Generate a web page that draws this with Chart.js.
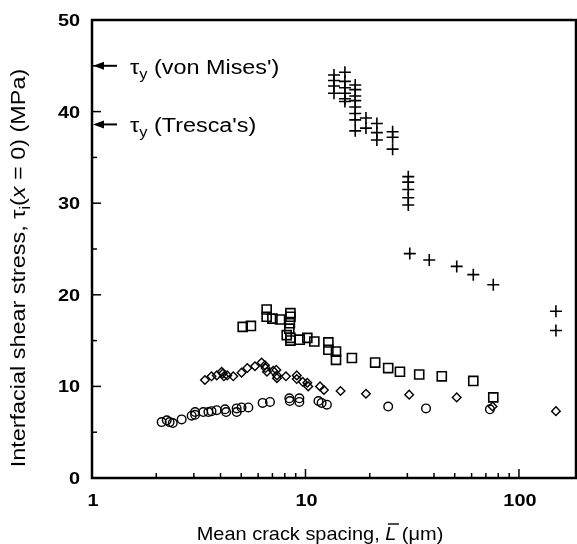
<!DOCTYPE html>
<html>
<head>
<meta charset="utf-8">
<script src="https://cdn.jsdelivr.net/npm/chart.js@4/dist/chart.umd.min.js"></script>
<style>
  html, body { margin: 0; padding: 0; background: #fff; }
  #wrap { width: 577px; height: 544px; position: relative; }
</style>
</head>
<body>
<div id="wrap"><canvas id="c" width="577" height="544"></canvas></div>
<script>
// Mean crack spacing (µm) and interfacial shear stress at x = 0 (MPa), one pair of arrays per marker series
const plusSpacing = [13.6, 13.6, 13.6, 13.6,
  15.3, 15.3, 15.3, 15.3, 15.3, 15.3,
  17.1, 17.1, 17.1, 17.1, 17.1, 17.1, 17.1, 17.1,
  19.2, 19.2, 21.6, 21.6, 21.6, 25.6, 25.6, 25.6,
  30.3, 30.3, 30.3, 30.3, 30.3,
  30.8, 38.0, 51.1, 61.1, 75.8, 149, 149];
const plusStress = [44.0, 43.4, 42.8, 42.0,
  44.3, 43.3, 42.6, 42.0, 41.4, 41.1,
  42.9, 42.4, 41.7, 41.2, 40.5, 39.8, 39.1, 37.9,
  39.3, 38.2, 38.7, 37.7, 36.9, 37.8, 37.2, 35.9,
  32.9, 32.3, 31.5, 30.6, 29.8,
  24.5, 23.8, 23.1, 22.2, 21.1, 18.2, 16.1];

const squareSpacing = [5.08, 5.55, 6.58, 6.58, 7.0, 7.6,
  8.5, 8.5, 8.45, 8.4, 8.17, 8.5, 8.5,
  9.4, 10.2, 11.0, 12.8, 12.8, 13.9, 13.9, 16.5,
  21.2, 24.4, 27.7, 34.1, 43.5, 61.1, 75.8];
const squareStress = [16.5, 16.6, 18.4, 17.6, 17.4, 17.3,
  18.0, 17.6, 16.9, 16.3, 15.6, 15.3, 15.0,
  15.1, 15.3, 14.9, 14.8, 14.0, 13.8, 12.9, 13.1,
  12.6, 12.0, 11.6, 11.3, 11.1, 10.6, 8.8];

const diamondSpacing = [3.38, 3.63, 3.84, 4.05, 4.1, 4.15, 4.3, 4.59, 5.02, 5.34,
  5.80, 6.23, 6.46, 6.5, 6.6, 7.06, 7.3, 7.35, 7.35, 8.1,
  9.1, 9.1, 9.7, 10.2, 10.3, 11.7, 12.2, 14.6, 19.2, 30.6, 51.1, 75.2, 149];
const diamondStress = [10.7, 11.1, 11.2, 11.6, 11.4, 11.1, 11.2, 11.1, 11.5, 12.0,
  12.2, 12.6, 12.3, 12.0, 11.6, 11.7, 11.8, 11.2, 10.9, 11.1,
  11.2, 10.8, 10.5, 10.4, 10.0, 10.0, 9.6, 9.5, 9.2, 9.1, 8.8, 7.8, 7.3];

const circleSpacing = [2.12, 2.24, 2.31, 2.39, 2.63, 2.93, 3.04, 3.04, 3.32, 3.51,
  3.63, 3.84, 4.2, 4.25, 4.76, 4.76, 5.02, 5.40, 6.3, 6.82,
  8.4, 8.45, 9.36, 9.36, 11.5, 11.9, 12.6, 24.4, 36.7, 73.1];
const circleStress = [6.1, 6.3, 6.1, 6.0, 6.4, 6.8, 7.2, 6.9, 7.2, 7.2,
  7.3, 7.4, 7.5, 7.2, 7.2, 7.6, 7.7, 7.7, 8.2, 8.3,
  8.7, 8.4, 8.7, 8.3, 8.4, 8.2, 8.0, 7.8, 7.6, 7.5];

// Axis tick labels and the two yield-stress markers
const xTickLabels = [1, 10, 100];
const yTickLabels = [0, 10, 20, 30, 40, 50];
const yieldVonMises = 45.0;
const yieldTresca = 38.6;

const FONT = '"Liberation Sans", Arial, Helvetica, sans-serif';
const WIDE = 1.17; // the lettering is set slightly expanded

function pairs(xs, ys) { return xs.map((x, i) => ({ x: x, y: ys[i] })); }

function piecesWidth(ctx, pieces) {
  let w = 0;
  for (const p of pieces) { ctx.font = p.font; w += ctx.measureText(p.text).width; }
  return w;
}
// Draws a run of text pieces from (0,0) on the current baseline, horizontally expanded by sx
function drawPieces(ctx, pieces, sx) {
  ctx.save();
  ctx.scale(sx, 1);
  ctx.textAlign = 'left';
  ctx.textBaseline = 'alphabetic';
  let cx = 0;
  for (const p of pieces) {
    ctx.font = p.font;
    ctx.fillText(p.text, cx, p.dy || 0);
    const w = ctx.measureText(p.text).width;
    if (p.overline) {
      ctx.lineWidth = 1.4;
      ctx.beginPath();
      ctx.moveTo(cx + 2.5, -16);
      ctx.lineTo(cx + w + 2.5, -16);
      ctx.stroke();
    }
    cx += w;
  }
  ctx.restore();
}
function scaledText(ctx, text, x, y, font, align, sx) {
  ctx.save();
  ctx.translate(x, y);
  ctx.scale(sx, 1);
  ctx.font = font;
  ctx.textAlign = align;
  ctx.textBaseline = 'alphabetic';
  ctx.fillText(text, 0, 0);
  ctx.restore();
}

const decorations = {
  id: 'decorations',
  afterDraw(chart) {
    const ctx = chart.ctx;
    const xs = chart.scales.x, ys = chart.scales.y;
    const a = chart.chartArea;
    ctx.save();
    ctx.strokeStyle = '#000';
    ctx.fillStyle = '#000';

    // frame
    ctx.lineWidth = 2.5;
    ctx.strokeRect(a.left, a.top, a.right - a.left, a.bottom - a.top);

    // inward ticks on the log axis
    ctx.lineWidth = 1.5;
    for (let d = 1; d <= 100; d *= 10) {
      for (let m = 1; m <= 9; m++) {
        const v = m * d;
        if (v > xs.max) break;
        const px = xs.getPixelForValue(v);
        const len = (m === 1) ? 9 : 5;
        ctx.beginPath();
        ctx.moveTo(px, a.bottom);
        ctx.lineTo(px, a.bottom - len);
        ctx.stroke();
      }
    }
    // inward ticks on the stress axis
    for (let v = 0; v <= 50; v += 5) {
      const py = ys.getPixelForValue(v);
      const len = (v % 10 === 0) ? 9 : 5;
      ctx.beginPath();
      ctx.moveTo(a.left, py);
      ctx.lineTo(a.left + len, py);
      ctx.stroke();
    }

    // tick labels
    const tickFont = 'bold 17px ' + FONT;
    for (const v of yTickLabels) {
      scaledText(ctx, String(v), a.left - 12, ys.getPixelForValue(v) + 6, tickFont, 'right', WIDE);
    }
    for (const v of xTickLabels) {
      scaledText(ctx, String(v), xs.getPixelForValue(v) + 1, a.bottom + 28, tickFont, 'center', WIDE);
    }

    // yield stress arrows with labels
    const marks = [
      { v: yieldVonMises, label: " (von Mises')" },
      { v: yieldTresca, label: " (Tresca's)" }
    ];
    for (const mk of marks) {
      const py = ys.getPixelForValue(mk.v);
      const tip = a.left + 1;
      ctx.lineWidth = 2;
      ctx.beginPath();
      ctx.moveTo(tip + 8, py);
      ctx.lineTo(a.left + 25, py);
      ctx.stroke();
      ctx.beginPath();
      ctx.moveTo(tip, py);
      ctx.lineTo(tip + 11, py - 4);
      ctx.lineTo(tip + 11, py + 4);
      ctx.closePath();
      ctx.fill();
      ctx.save();
      ctx.translate(a.left + 38, py + 8);
      drawPieces(ctx, [
        { text: 'τ', font: '20px ' + FONT },
        { text: 'y', font: '14px ' + FONT, dy: 5 },
        { text: mk.label, font: '20px ' + FONT }
      ], WIDE);
      ctx.restore();
    }

    // x axis title
    const xt = [
      { text: 'Mean crack spacing, ', font: '19px ' + FONT },
      { text: 'L', font: 'italic 19px ' + FONT, overline: true },
      { text: ' (μm)', font: '19px ' + FONT }
    ];
    const xsx = 1.05;
    const xw = piecesWidth(ctx, xt) * xsx;
    ctx.save();
    ctx.translate(320 - xw / 2, 540);
    drawPieces(ctx, xt, xsx);
    ctx.restore();

    // y axis title, rotated
    const yt = [
      { text: 'Interfacial shear stress, τ', font: '20px ' + FONT },
      { text: 'i', font: '14px ' + FONT, dy: 5 },
      { text: '(', font: '20px ' + FONT },
      { text: 'x', font: 'italic 20px ' + FONT },
      { text: ' = 0) (MPa)', font: '20px ' + FONT }
    ];
    const yw = piecesWidth(ctx, yt) * WIDE;
    ctx.save();
    ctx.translate(25, 268);
    ctx.rotate(-Math.PI / 2);
    ctx.translate(-yw / 2, 0);
    drawPieces(ctx, yt, WIDE);
    ctx.restore();

    ctx.restore();
  }
};

const common = { borderColor: '#000', backgroundColor: 'rgba(0,0,0,0)', showLine: false };

new Chart(document.getElementById('c'), {
  type: 'scatter',
  data: {
    datasets: [
      Object.assign({ label: 'plus', data: pairs(plusSpacing, plusStress), pointStyle: 'cross', pointRadius: 6, borderWidth: 1.6 }, common),
      Object.assign({ label: 'square', data: pairs(squareSpacing, squareStress), pointStyle: 'rect', pointRadius: 6.4, borderWidth: 1.6 }, common),
      Object.assign({ label: 'diamond', data: pairs(diamondSpacing, diamondStress), pointStyle: 'rectRot', pointRadius: 4.3, borderWidth: 1.4 }, common),
      Object.assign({ label: 'circle', data: pairs(circleSpacing, circleStress), pointStyle: 'circle', pointRadius: 4.3, borderWidth: 1.4 }, common)
    ]
  },
  options: {
    responsive: false,
    animation: false,
    layout: { autoPadding: false, padding: { left: 0, right: 1, top: 20, bottom: 0 } },
    plugins: { legend: { display: false }, tooltip: { enabled: false } },
    scales: {
      x: {
        type: 'logarithmic',
        min: 1,
        max: 185,
        border: { display: false },
        grid: { display: false, drawTicks: false },
        ticks: { display: false },
        afterFit(scale) { scale.height = 66; scale.paddingLeft = 0; scale.paddingRight = 0; }
      },
      y: {
        min: 0,
        max: 50,
        border: { display: false },
        grid: { display: false, drawTicks: false },
        ticks: { display: false },
        afterFit(scale) { scale.width = 92; scale.paddingTop = 0; scale.paddingBottom = 0; }
      }
    }
  },
  plugins: [decorations]
});
</script>
</body>
</html>
